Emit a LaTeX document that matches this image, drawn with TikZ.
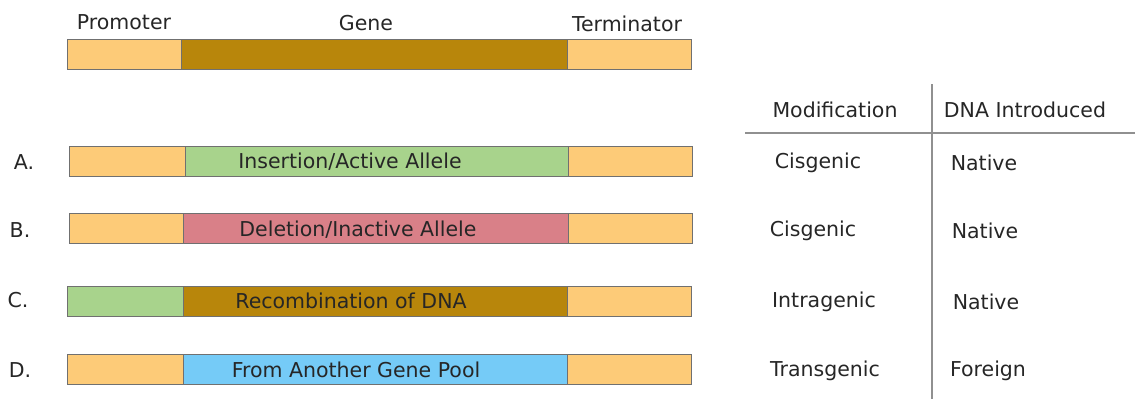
\documentclass[tikz,border=0pt]{standalone}
\usepackage{fontspec}
\setmainfont{DejaVu Sans}
\definecolor{prom}{HTML}{FDCB78}
\definecolor{gene}{HTML}{B8860B}
\definecolor{ins}{HTML}{A8D38C}
\definecolor{del}{HTML}{D98088}
\definecolor{pool}{HTML}{75CBF7}
\definecolor{edge}{HTML}{707070}
\definecolor{rule}{HTML}{909090}
\begin{document}
\begin{tikzpicture}[x=1pt,y=-1pt,
  seg/.style={draw=edge,line width=0.9pt,inner sep=0pt,outer sep=0pt},
  lbl/.style={font=\fontsize{20.5}{23}\selectfont,text=black!85,inner sep=0pt},
  tbl/.style={font=\fontsize{20.5}{23}\selectfont,text=black!85,inner sep=0pt},
  rl/.style={draw=rule,line width=1.2pt}]
\useasboundingbox (0,0) rectangle (1135,399);
% top bar
\path[seg,fill=prom] (67,39) rectangle (181,69);
\path[seg,fill=gene] (181,39) rectangle (567,69);
\path[seg,fill=prom] (567,39) rectangle (691,69);
\node[lbl] (lp) at (124,22) {Promoter};
\node[lbl] (lg) at (366,23) {Gene};
\node[lbl] (lt) at (627,24) {Terminator};
% row A
\path[seg,fill=prom] (69,146) rectangle (185,176);
\path[seg,fill=ins] (185,146) rectangle (568,176);
\path[seg,fill=prom] (568,146) rectangle (692,176);
\node[lbl] (ta) at (350,162) {Insertion/Active Allele};
\node[lbl] (la) at (24,162) {A.};
% row B
\path[seg,fill=prom] (69,213) rectangle (183,243);
\path[seg,fill=del] (183,213) rectangle (568,243);
\path[seg,fill=prom] (568,213) rectangle (692,243);
\node[lbl] (tb) at (358,230) {Deletion/Inactive Allele};
\node[lbl] (lb) at (20,230) {B.};
% row C
\path[seg,fill=ins] (67,286) rectangle (183,316);
\path[seg,fill=gene] (183,286) rectangle (567,316);
\path[seg,fill=prom] (567,286) rectangle (691,316);
\node[lbl] (tc) at (351,301) {Recombination of DNA};
\node[lbl] (lc) at (18,300) {C.};
% row D
\path[seg,fill=prom] (67,354) rectangle (183,384);
\path[seg,fill=pool] (183,354) rectangle (567,384);
\path[seg,fill=prom] (567,354) rectangle (691,384);
\node[lbl] (td) at (356,370) {From Another Gene Pool};
\node[lbl] (ld) at (20,370) {D.};
% table
\coordinate (vt) at (932,84);
\coordinate (vb) at (932,399);
\coordinate (hl) at (745,133);
\coordinate (hr) at (1135,133);
\draw[rl] (vt) -- (vb);
\draw[rl] (hl) -- (hr);
\node[tbl] (h1) at (835,110) {Modification};
\node[tbl] (h2) at (1025,110) {DNA Introduced};
\node[tbl] (m1) at (818,163) {Cisgenic};
\node[tbl] (d1) at (984,163) {Native};
\node[tbl] (m2) at (813,231) {Cisgenic};
\node[tbl] (d2) at (985,231) {Native};
\node[tbl] (m3) at (824,302) {Intragenic};
\node[tbl] (d3) at (986,302) {Native};
\node[tbl] (m4) at (825,371) {Transgenic};
\node[tbl] (d4) at (988,371) {Foreign};
\end{tikzpicture}
\end{document}
